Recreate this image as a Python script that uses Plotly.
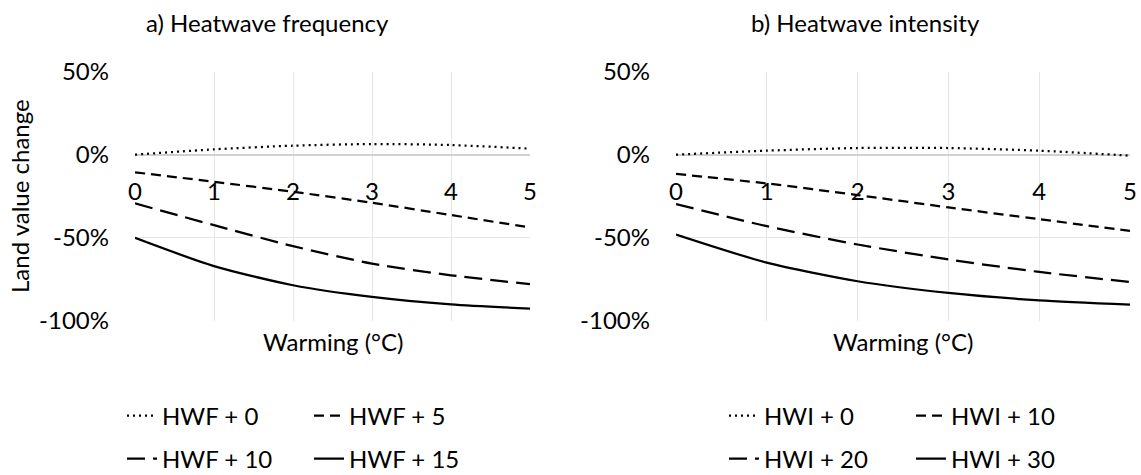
import plotly.graph_objects as go

W, H = 1141, 475

# ---------------- data ----------------
warming = [0, 1, 2, 3, 4, 5]
x_tick_labels = ["0", "1", "2", "3", "4", "5"]
y_tick_vals = [50, 0, -50, -100]
y_tick_labels = ["50%", "0%", "-50%", "-100%"]

hwf_names = ["HWF + 0", "HWF + 5", "HWF + 10", "HWF + 15"]
hwf_0 = [0.0, 3.2, 5.4, 6.4, 5.8, 3.6]
hwf_5 = [-10.6, -16.3, -22.3, -28.9, -36.3, -43.8]
hwf_10 = [-29.3, -42.4, -55.0, -65.5, -72.5, -77.9]
hwf_15 = [-50.0, -67.0, -78.5, -85.5, -90.0, -92.6]

hwi_names = ["HWI + 0", "HWI + 10", "HWI + 20", "HWI + 30"]
hwi_0 = [0.0, 2.4, 4.0, 4.0, 2.4, -0.6]
hwi_10 = [-11.6, -17.3, -24.3, -31.7, -38.8, -45.8]
hwi_20 = [-29.7, -43.0, -54.0, -63.0, -70.5, -76.5]
hwi_30 = [-48.0, -64.9, -76.1, -83.1, -87.6, -90.2]

panel_titles = ["a) Heatwave frequency", "b) Heatwave intensity"]
x_title = "Warming (°C)"
y_title = "Land value change"

# ---------------- style ----------------
FONT = "Lato, Carlito, Calibri, sans-serif"
FS = 24
dashes = ["2px,4px", "10px,6px", "18px,8px", "solid"]
LW = 2.25
GRID = "#e6e6e6"
ZERO = "#d0d0d0"

def px_x(p):
    return p / W

def px_y(p):
    return 1 - p / H

left_dom = [px_x(135), px_x(530)]
right_dom = [px_x(676), px_x(1130)]
y_dom = [px_y(321), px_y(71.5)]

fig = go.Figure()

for (series, names, xa, ya, leg_row) in [
    ([hwf_0, hwf_5, hwf_10, hwf_15], hwf_names, "x", "y", ["legend", "legend", "legend2", "legend2"]),
    ([hwi_0, hwi_10, hwi_20, hwi_30], hwi_names, "x2", "y2", ["legend3", "legend3", "legend4", "legend4"]),
]:
    for vals, name, dash, lg in zip(series, names, dashes, leg_row):
        fig.add_trace(go.Scatter(
            x=warming, y=vals, name=name, mode="lines",
            line=dict(color="black", width=LW, dash=dash, shape="spline", smoothing=0.7),
            xaxis=xa, yaxis=ya, legend=lg, hoverinfo="x+y+name",
        ))

x_axis_pos = px_y(175)
common_x = dict(range=[0, 5], tickvals=warming, ticktext=x_tick_labels, showgrid=True,
                gridcolor=GRID, gridwidth=1, zeroline=False, showline=False, ticks="",
                tickfont=dict(family=FONT, size=FS, color="#000"), anchor="free",
                position=x_axis_pos, fixedrange=True, automargin=False)
common_y = dict(range=[-100, 50], tickvals=y_tick_vals, ticktext=y_tick_labels, showgrid=True,
                gridcolor=GRID, gridwidth=1, zeroline=True, zerolinecolor=ZERO, zerolinewidth=2,
                showline=False, ticks="", ticklabelstandoff=25, automargin=False,
                tickfont=dict(family=FONT, size=FS, color="#000"), domain=y_dom, fixedrange=True)

fig.update_layout(
    width=W, height=H, margin=dict(l=0, r=0, t=0, b=0, autoexpand=False),
    paper_bgcolor="white", plot_bgcolor="white",
    font=dict(family=FONT, size=FS, color="#000"),
    xaxis=dict(domain=left_dom, **common_x),
    yaxis=dict(anchor="x", **common_y),
    xaxis2=dict(domain=right_dom, **common_x),
    yaxis2=dict(anchor="x2", **common_y),
    showlegend=True,
)

def leg(xpix, ypix):
    return dict(orientation="h", x=px_x(xpix), xanchor="left", y=px_y(ypix), yanchor="middle",
                entrywidth=142, entrywidthmode="pixels", bgcolor="rgba(0,0,0,0)",
                font=dict(family=FONT, size=FS, color="#000"), traceorder="normal")

fig.update_layout(
    legend=leg(122, 416), legend2=leg(122, 459),
    legend3=leg(724, 416), legend4=leg(724, 459),
)

ann = []
ann.append(dict(text=panel_titles[0], x=px_x(267), y=px_y(23)))
ann.append(dict(text=panel_titles[1], x=px_x(865), y=px_y(23)))
ann.append(dict(text=x_title, x=px_x(332.5), y=px_y(341)))
ann.append(dict(text=x_title, x=px_x(903), y=px_y(341)))
ann.append(dict(text=y_title, x=px_x(19), y=px_y(196), textangle=-90))
for a in ann:
    a.update(xref="paper", yref="paper", showarrow=False, xanchor="center", yanchor="middle",
             font=dict(family=FONT, size=FS, color="#000"))
fig.update_layout(annotations=ann)

fig.write_html("out.html")
